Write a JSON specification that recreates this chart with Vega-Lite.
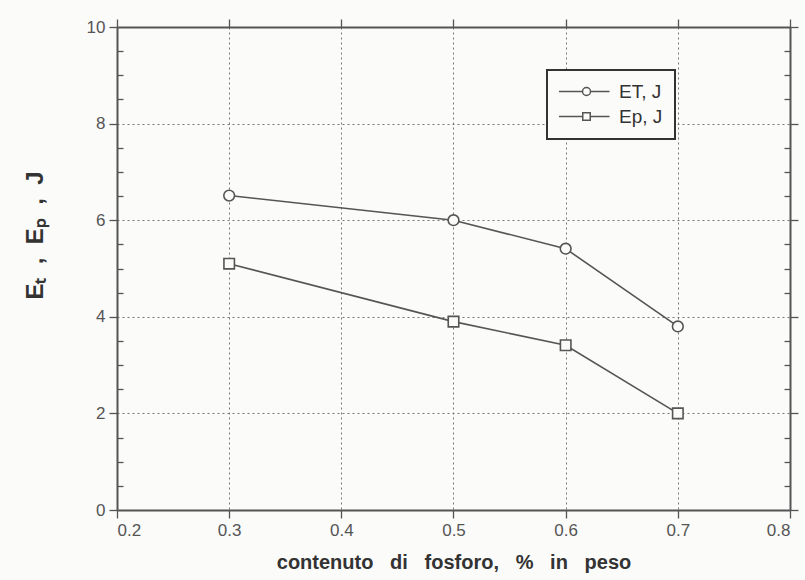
{
  "$schema": "https://vega.github.io/schema/vega-lite/v6.json",
  "width": 673,
  "height": 483,
  "autosize": "none",
  "padding": {"left": 117, "top": 27, "right": 15, "bottom": 70},
  "background": "#fbfbfa",
  "config": {
    "view": {"stroke": null},
    "font": "Liberation Sans",
    "axis": {"labelFont": "Liberation Sans", "titleFont": "Liberation Sans"},
    "legend": {"strokeWidth": 2}
  },
  "data": {
    "values": [
      {"serie": "ET, J", "p": 0.3, "E": 6.51},
      {"serie": "ET, J", "p": 0.5, "E": 6.0},
      {"serie": "ET, J", "p": 0.6, "E": 5.41},
      {"serie": "ET, J", "p": 0.7, "E": 3.8},
      {"serie": "Ep, J", "p": 0.3, "E": 5.1},
      {"serie": "Ep, J", "p": 0.5, "E": 3.9},
      {"serie": "Ep, J", "p": 0.6, "E": 3.41},
      {"serie": "Ep, J", "p": 0.7, "E": 2.0}
    ]
  },
  "layer": [
    {
      "mark": {"type": "line", "color": "#555", "strokeWidth": 1.6},
      "encoding": {
        "x": {
          "field": "p", "type": "quantitative",
          "scale": {"domain": [0.2, 0.8], "nice": false, "zero": false},
          "axis": {
            "orient": "bottom",
            "values": [0.2, 0.3, 0.4, 0.5, 0.6, 0.7, 0.8],
            "format": ".1f",
            "title": "contenuto \u00a0\u00a0di \u00a0\u00a0fosforo, \u00a0\u00a0% \u00a0\u00a0in \u00a0\u00a0peso",
            "titleFontSize": 20, "titleFontWeight": "bold", "titleColor": "#333",
            "titlePadding": 14,
            "labelFontSize": 17, "labelColor": "#555", "labelPadding": 4,
            "domainColor": "#555", "domainWidth": 2,
            "tickColor": "#555", "tickSize": 8, "tickWidth": 1.3,
            "grid": true, "gridColor": "#777", "gridDash": [2, 3], "gridWidth": 1
          }
        },
        "y": {
          "field": "E", "type": "quantitative",
          "scale": {"domain": [0, 10], "nice": false},
          "axis": {
            "orient": "left",
            "values": [0, 0.5, 1, 1.5, 2, 2.5, 3, 3.5, 4, 4.5, 5, 5.5, 6, 6.5, 7, 7.5, 8, 8.5, 9, 9.5, 10],
            "format": "~g",
            "labelExpr": "datum.value % 2 === 0 ? datum.label : ''",
            "title": "Eₜ\u00a0 ,\u00a0 Eₚ\u00a0 ,\u00a0 J",
            "titleFontSize": 24, "titleFontWeight": "bold", "titleColor": "#333",
            "titleX": -70, "titleY": 208, "titleAngle": -90,
            "labelFontSize": 17, "labelColor": "#555", "labelPadding": 4,
            "domainColor": "#555", "domainWidth": 2,
            "tickColor": "#555", "tickWidth": 1.3,
            "tickSize": {"condition": {"test": "datum.value % 2 === 0", "value": 8}, "value": -6},
            "grid": true, "gridColor": "#777", "gridDash": [2, 3], "gridWidth": 1,
            "gridOpacity": {"condition": {"test": "datum.value % 2 === 0", "value": 1}, "value": 0}
          }
        },
        "detail": {"field": "serie"}
      }
    },
    {
      "transform": [{"filter": "datum.serie === 'ET, J'"}],
      "mark": {"type": "point", "shape": "circle", "size": 115, "filled": false, "fill": "#fbfbfa", "fillOpacity": 1, "stroke": "#555", "strokeWidth": 1.6},
      "encoding": {
        "x": {
          "field": "p", "type": "quantitative",
          "axis": {
            "orient": "top", "labels": false, "title": null, "grid": false,
            "values": [0.2, 0.3, 0.4, 0.5, 0.6, 0.7, 0.8],
            "domainColor": "#555", "domainWidth": 2,
            "tickColor": "#555", "tickSize": 8, "tickWidth": 1.3
          }
        },
        "y": {
          "field": "E", "type": "quantitative",
          "axis": {
            "orient": "right", "labels": false, "title": null, "grid": false,
            "values": [0, 0.5, 1, 1.5, 2, 2.5, 3, 3.5, 4, 4.5, 5, 5.5, 6, 6.5, 7, 7.5, 8, 8.5, 9, 9.5, 10],
            "domainColor": "#555", "domainWidth": 2,
            "tickColor": "#555", "tickWidth": 1.3,
            "tickSize": {"condition": {"test": "datum.value % 2 === 0", "value": 8}, "value": -6}
          }
        }
      }
    },
    {
      "transform": [{"filter": "datum.serie === 'Ep, J'"}],
      "mark": {"type": "point", "shape": "square", "size": 110, "filled": false, "fill": "#fbfbfa", "fillOpacity": 1, "stroke": "#555", "strokeWidth": 1.6},
      "encoding": {
        "x": {"field": "p", "type": "quantitative", "axis": null},
        "y": {"field": "E", "type": "quantitative", "axis": null}
      }
    },
    {
      "mark": {"type": "point", "opacity": 0, "color": "#555"},
      "encoding": {
        "x": {"field": "p", "type": "quantitative", "axis": null},
        "y": {"field": "E", "type": "quantitative", "axis": null},
        "shape": {
          "field": "serie", "type": "nominal",
          "scale": {
            "domain": ["ET, J", "Ep, J"],
            "range": [
              "M-5.5,0H-0.8M0.8,0H4.6M0.8,0A0.8,0.8,0,1,1,-0.8,0A0.8,0.8,0,1,1,0.8,0Z",
              "M-5.5,0H-0.75M0.75,0H4.6M-0.75,-0.75H0.75V0.75H-0.75Z"
            ]
          },
          "legend": {
            "title": null,
            "orient": "none", "legendX": 430, "legendY": 43,
            "symbolSize": 100,
            "symbolOffset": 18,
            "labelFontSize": 19, "labelColor": "#333", "labelOffset": 23,
            "rowPadding": 5, "padding": 12,
            "strokeColor": "#333", "fillColor": "#fbfbfa",
            "encode": {
              "symbols": {
                "stroke": {"value": "#555"},
                "fill": {"value": "transparent"},
                "strokeWidth": {"value": 1.4},
                "opacity": {"value": 1}
              }
            }
          }
        }
      }
    }
  ],
  "resolve": {"axis": {"x": "independent", "y": "independent"}}
}
